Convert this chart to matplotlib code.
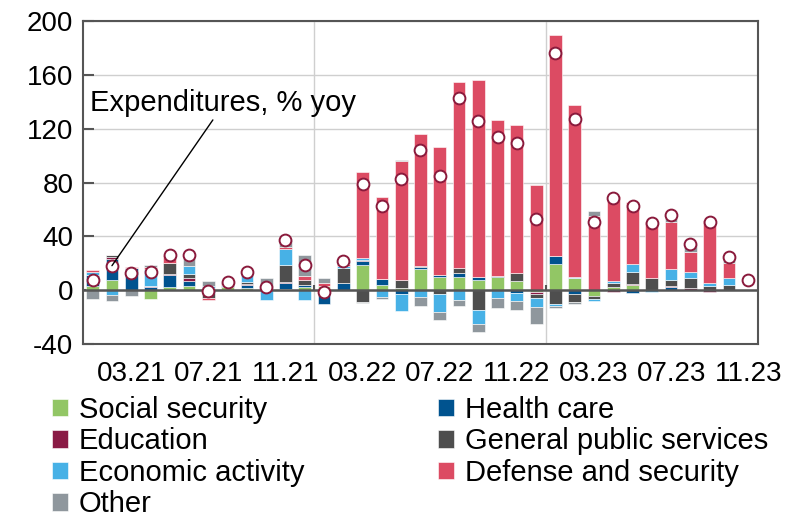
import numpy as np
import matplotlib
matplotlib.use('Agg')
import matplotlib.pyplot as plt

plt.rcParams['font.family'] = ['Liberation Sans', 'DejaVu Sans']
plt.rcParams['axes.unicode_minus'] = False

##########################################################
# Monthly data, 01.21 - 11.23, contributions to expenditure growth (pp)
months = ['01.21', '02.21', '03.21', '04.21', '05.21', '06.21', '07.21', '08.21', '09.21',
          '10.21', '11.21', '12.21', '01.22', '02.22', '03.22', '04.22', '05.22', '06.22',
          '07.22', '08.22', '09.22', '10.22', '11.22', '12.22', '01.23', '02.23', '03.23',
          '04.23', '05.23', '06.23', '07.23', '08.23', '09.23', '10.23', '11.23']

social = [3, 7.5, 0, -6.2, 2, 3, 1.5, 2, 1.5, 0.5, 1.2, 2.5, 3, 0, 18.7, 3.7, 1.7, 15.5,
          10, 9.5, 7.5, 9.5, 7, -1, 19.5, 8.7, -4.5, 2, 3.7, 0, 0, 0, 0, 0, np.nan]
health = [8, 15.7, 16.2, 2.5, 9.5, 4, -2, 0, 2, 0, 3.8, 1, -10, 5, 3.2, 4.3, -3.2, 1.5,
          1.2, 3.5, 2.5, 1, -2, -0.5, 6, -3, 0, 0, -2, 0, 2.5, 0, 0, 0, np.nan]
education = [0, 1.7, 0, 0.7, 0.5, 1.8, 0, 0, 1.3, 0, 0.8, 0, 0, 0, 0.5, 0, 0, 0,
             0, 0, 0, 0, 0, -1, 0, 0, 0, -1.5, 0.8, 0, 0.5, 1.5, -1.5, 0, np.nan]
general = [0, 1.2, 0, 0, 8, 3, -3.8, 1, 1.5, 1, 12.9, 4.2, 0, 11.2, -8.7, 0, 5.5, 1,
           -3.2, 3.7, -15, 0, 6, -3.5, -10.5, -5.7, -1.7, 3.5, 9.2, 9, 4.5, 7.5, 3.2, 3.7, np.nan]
economic = [2.5, -3.7, 0, 12.5, 0, 6, 1.5, 1, 6, -7, 11.7, -7.5, 0, 1.5, 1.8, -5, -12.3, -5,
            -13, -7, -10, -5.7, -5.8, -6.5, -1, 1, -1.8, 1.5, 5.8, -1, 8, 4.5, 2.3, 5, np.nan]
defense = [1.5, 0, 1, 1.2, 6.5, 0.5, -1.5, 1.5, 0.5, 0, 2, 2.5, 2, 1.5, 63.6, 61, 89, 98,
           95.3, 138, 146.4, 116.2, 110, 78, 164.5, 128, 55, 63, 45.8, 42, 35.5, 15, 47, 11.3, np.nan]
other = [-6.5, -4.5, -4.2, 1.7, 0, 8, 3.7, 0.7, 1, 7.5, 5, 16, 3.7, 2.5, -0.7, -1.2, 0.7, -7,
         -5.8, -4.7, -6.2, -7.3, -6.7, -13, -1.7, -1.8, 4, 0, 0, 0, 5, 6, 0, 5, np.nan]

# Expenditures, % yoy
total = [7.5, 18.2, 13, 13.7, 26.5, 26.2, -0.7, 6.2, 13.7, 2.2, 37.4, 18.7, -1.2, 21.7, 79,
         62.3, 82.3, 104.2, 84.8, 143, 125.4, 113.7, 109.2, 53, 176.6, 127, 51, 68.6, 62.8,
         50, 55.6, 34.2, 51, 24.4, 7.5]

names = ['Social security', 'Health care', 'Education', 'General public services',
         'Economic activity', 'Defense and security', 'Other']
colors = ['#92c665', '#00538f', '#8a1a45', '#4e4e4e', '#47b1e6', '#dc4b63', '#8f979d']
series = [social, health, education, general, economic, defense, other]

##########################################################
fig = plt.figure(figsize=(7.87, 5.20), dpi=100)
ax = fig.add_axes([0.1055, 0.3385, 0.8575, 0.621])

x = np.arange(len(months))
pos_base = np.zeros(len(months))
neg_base = np.zeros(len(months))
bars = {}
for name, col, vals in zip(names, colors, series):
    v = np.nan_to_num(np.array(vals, dtype=float))
    base = np.where(v >= 0, pos_base, neg_base)
    bars[name] = ax.bar(x, v, 0.66, bottom=base, color=col, edgecolor='white',
                        linewidth=0.4, zorder=2)
    pos_base += np.clip(v, 0, None)
    neg_base += np.clip(v, None, 0)

ax.plot(x, total, 'o', markersize=8.5, markerfacecolor='white', markeredgecolor='#8a1a3c',
        markeredgewidth=1.4, zorder=4)

##########################################################
# Axes, grid and year separators
ax.set_xlim(-0.5, len(months) - 0.5)
ax.set_ylim(-40, 200)
ax.set_yticks(np.arange(-40, 201, 40))
ax.yaxis.grid(True, color='#cfcfcf', linewidth=1, zorder=0)
ax.set_axisbelow(True)
for b in [11.5, 23.5]:
    ax.axvline(b, color='#cfcfcf', linewidth=1, zorder=0)
    ax.vlines(b, 0, 4, color='#555555', linewidth=1.5, zorder=3)
ax.axhline(0, color='#555555', linewidth=1.8, zorder=3)

tick_idx = x[2::4]
ax.set_xticks(tick_idx)
ax.set_xticklabels([months[i] for i in tick_idx])
ax.tick_params(axis='x', length=0, pad=12, labelsize=20)
ax.tick_params(axis='y', direction='in', length=8, width=1.5, color='#555555',
               pad=7, labelsize=20)
for s in ax.spines.values():
    s.set_color('#555555')
    s.set_linewidth(1.5)

ax.annotate('Expenditures, % yoy', xy=(1, total[1]), xytext=(-0.15, 139),
            fontsize=21, va='center', ha='left',
            arrowprops=dict(arrowstyle='-', color='black', lw=1, shrinkA=0, shrinkB=0,
                            relpos=(0.47, 0)), zorder=5)

##########################################################
# Legend, column by column
order = ['Social security', 'Education', 'Economic activity', 'Other',
         'Health care', 'General public services', 'Defense and security']
fig.legend([bars[n] for n in order], order, loc='upper left', bbox_to_anchor=(0.048, 0.267),
           ncol=2, frameon=False, fontsize=21, handlelength=0.55, handleheight=0.55,
           handletextpad=0.35, labelspacing=0.12, columnspacing=4.6, borderpad=0)

plt.savefig('out.png', dpi=100)
